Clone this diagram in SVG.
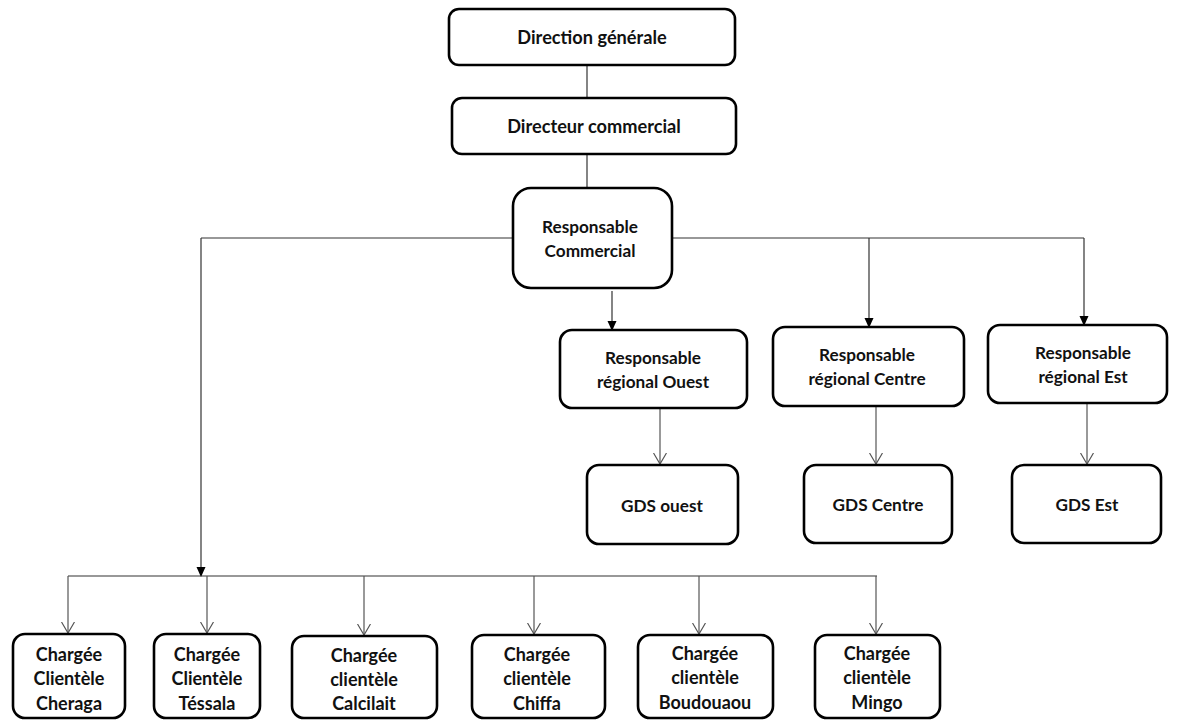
<svg xmlns="http://www.w3.org/2000/svg" width="1179" height="720" viewBox="0 0 1179 720">
<style>
.box{fill:#fff;stroke:#000;stroke-width:2.6}
.t{font-family:Lato,"Liberation Sans",sans-serif;font-weight:bold;font-size:17.2px;fill:#111;text-anchor:middle}
.tt{font-family:Lato,"Liberation Sans",sans-serif;font-weight:bold;font-size:18.2px;fill:#111;text-anchor:middle}
.tc{font-family:Lato,"Liberation Sans",sans-serif;font-weight:bold;font-size:18px;fill:#111;text-anchor:middle}
.ln{stroke:#333;stroke-width:1.2;fill:none}
.lg{stroke:#555;stroke-width:1.2;fill:none}
</style>
<defs>
<marker id="fill" markerWidth="10" markerHeight="10" refX="9" refY="5" orient="auto" markerUnits="userSpaceOnUse">
<path d="M0,0.5 L10,5 L0,9.5 Z" fill="#000"/>
</marker>
<marker id="open" markerWidth="12" markerHeight="14" refX="11" refY="7" orient="auto" markerUnits="userSpaceOnUse">
<path d="M0,0.5 L11,7 L0,13.5" fill="none" stroke="#555" stroke-width="1.2"/>
</marker>
</defs>
<g id="connectors">
<line class="ln" x1="587" y1="65" x2="587" y2="98"/>
<line class="ln" x1="587" y1="154" x2="587" y2="188"/>
<line class="ln" x1="201" y1="238" x2="513" y2="238"/>
<line class="ln" x1="672" y1="238" x2="1084" y2="238"/>
<line class="ln" x1="612" y1="291" x2="612" y2="330" marker-end="url(#fill)"/>
<line class="ln" x1="869" y1="238" x2="869" y2="327" marker-end="url(#fill)"/>
<line class="ln" x1="1084" y1="238" x2="1084" y2="325" marker-end="url(#fill)"/>
<line class="ln" x1="201" y1="238" x2="201" y2="576" marker-end="url(#fill)"/>
<line class="lg" x1="660" y1="408" x2="660" y2="464" marker-end="url(#open)"/>
<line class="lg" x1="876" y1="406" x2="876" y2="464" marker-end="url(#open)"/>
<line class="lg" x1="1087" y1="403" x2="1087" y2="464" marker-end="url(#open)"/>
<line class="ln" x1="68" y1="576" x2="877" y2="576"/>
<line class="lg" x1="68" y1="576" x2="68" y2="633" marker-end="url(#open)"/>
<line class="lg" x1="207" y1="576" x2="207" y2="633" marker-end="url(#open)"/>
<line class="lg" x1="364" y1="576" x2="364" y2="635" marker-end="url(#open)"/>
<line class="lg" x1="534" y1="576" x2="534" y2="634" marker-end="url(#open)"/>
<line class="lg" x1="699" y1="576" x2="699" y2="634" marker-end="url(#open)"/>
<line class="lg" x1="876" y1="576" x2="876" y2="634" marker-end="url(#open)"/>
</g>
<g id="direction-generale"><rect class="box" x="449" y="9" width="286" height="56" rx="10"/><text class="tt" x="592" y="44">Direction générale</text></g>
<g id="directeur-commercial"><rect class="box" x="452" y="98" width="284" height="56" rx="10"/><text class="tt" x="594" y="133">Directeur commercial</text></g>
<g id="responsable-commercial"><rect class="box" x="513" y="188" width="159" height="100" rx="18"/><text class="t" x="590" y="233">Responsable</text><text class="t" x="590" y="257">Commercial</text></g>
<g id="resp-ouest"><rect class="box" x="560" y="330" width="187" height="78" rx="12"/><text class="t" x="653" y="364">Responsable</text><text class="t" x="653" y="388">régional Ouest</text></g>
<g id="resp-centre"><rect class="box" x="773" y="327" width="191" height="79" rx="12"/><text class="t" x="867" y="361">Responsable</text><text class="t" x="867" y="385">régional Centre</text></g>
<g id="resp-est"><rect class="box" x="988" y="325" width="179" height="78" rx="12"/><text class="t" x="1083" y="359">Responsable</text><text class="t" x="1083" y="383">régional Est</text></g>
<g id="gds-ouest"><rect class="box" x="587" y="465" width="151" height="79" rx="12"/><text class="t" x="662" y="512">GDS ouest</text></g>
<g id="gds-centre"><rect class="box" x="804" y="465" width="148" height="78" rx="12"/><text class="t" x="878" y="511">GDS Centre</text></g>
<g id="gds-est"><rect class="box" x="1012" y="465" width="149" height="78" rx="12"/><text class="t" x="1087" y="511">GDS Est</text></g>
<g id="c-cheraga"><rect class="box" x="13" y="634" width="112" height="84" rx="12"/><text class="tc" x="69" y="661">Chargée</text><text class="tc" x="69" y="685">Clientèle</text><text class="tc" x="69" y="710">Cheraga</text></g>
<g id="c-tessala"><rect class="box" x="154" y="634" width="106" height="84" rx="12"/><text class="tc" x="207" y="661">Chargée</text><text class="tc" x="207" y="685">Clientèle</text><text class="tc" x="207" y="710">Téssala</text></g>
<g id="c-calcilait"><rect class="box" x="292" y="636" width="145" height="82" rx="12"/><text class="tc" x="364" y="662">Chargée</text><text class="tc" x="364" y="686">clientèle</text><text class="tc" x="364" y="710">Calcilait</text></g>
<g id="c-chiffa"><rect class="box" x="472" y="635" width="133" height="83" rx="12"/><text class="tc" x="537" y="661">Chargée</text><text class="tc" x="537" y="685">clientèle</text><text class="tc" x="537" y="710">Chiffa</text></g>
<g id="c-boudouaou"><rect class="box" x="638" y="635" width="135" height="83" rx="12"/><text class="tc" x="705" y="660">Chargée</text><text class="tc" x="705" y="684">clientèle</text><text class="tc" x="705" y="709">Boudouaou</text></g>
<g id="c-mingo"><rect class="box" x="815" y="635" width="125" height="83" rx="12"/><text class="tc" x="877" y="660">Chargée</text><text class="tc" x="877" y="684">clientèle</text><text class="tc" x="877" y="709">Mingo</text></g>
</svg>
